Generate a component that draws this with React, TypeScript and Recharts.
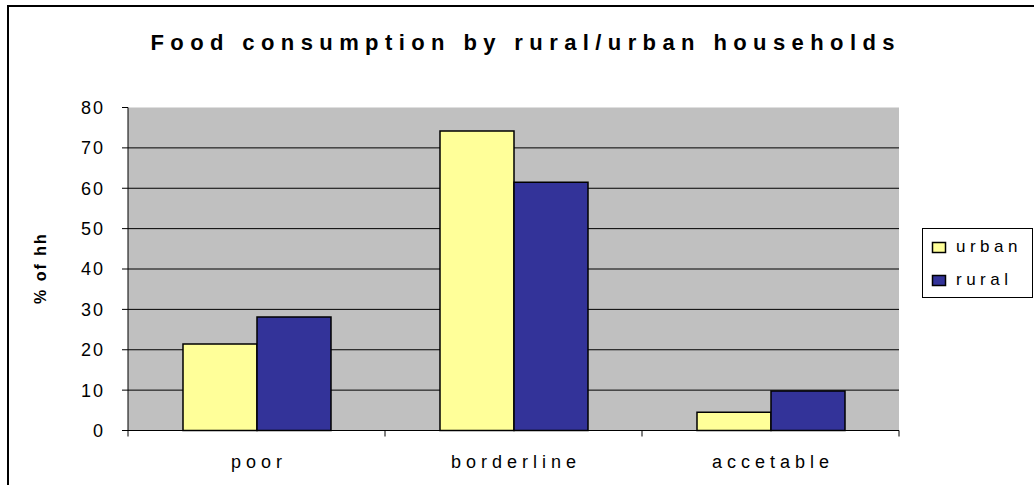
import { BarChart, Bar, XAxis, YAxis, CartesianGrid } from "recharts";

const categories = ["poor", "borderline", "accetable"];
const urbanValues = [21.4, 74.2, 4.5];
const ruralValues = [28.1, 61.5, 9.8];
const yTicks = [0, 10, 20, 30, 40, 50, 60, 70, 80];
const gridValues = [10, 20, 30, 40, 50, 60, 70];

const series = [
  { key: "urban", name: "urban", color: "#FFFF99" },
  { key: "rural", name: "rural", color: "#333399" },
];

const data = categories.map((c, i) => ({
  name: c,
  urban: urbanValues[i],
  rural: ruralValues[i],
}));

const font = '"Liberation Sans", Arial, sans-serif';

function CategoryTick(props: any) {
  const { x, y, payload, index } = props;
  const half = payload.offset ?? 128.5;
  return (
    <g>
      <line x1={x - half} x2={x - half} y1={y} y2={y + 6} stroke="#000" />
      {index === categories.length - 1 && (
        <line x1={x + half} x2={x + half} y1={y} y2={y + 6} stroke="#000" />
      )}
      <text
        x={x + 2.5}
        y={y + 37.5}
        textAnchor="middle"
        fontSize={18}
        letterSpacing={5}
        fontFamily={font}
        fill="#000"
      >
        {payload.value}
      </text>
    </g>
  );
}

export default function App() {
  return (
    <div
      style={{
        position: "absolute",
        left: 0,
        top: 0,
        width: 1034,
        height: 485,
        overflow: "hidden",
        background: "#fff",
        fontFamily: font,
      }}
    >
      <div
        style={{
          position: "absolute",
          left: 7,
          top: 5,
          width: 1100,
          height: 600,
          border: "2px solid #000",
        }}
      />
      <div style={{ position: "absolute", left: 0, top: 0 }}>
        <BarChart
          width={1034}
          height={485}
          data={data}
          margin={{ top: 107.5, right: 135, bottom: 24.5, left: 0 }}
          barCategoryGap="21.4%"
          barGap={0}
        >
          <CartesianGrid
            vertical={false}
            horizontalValues={gridValues}
            stroke="#000"
            fill="#C0C0C0"
            fillOpacity={1}
          />
          <XAxis
            dataKey="name"
            height={30}
            axisLine={{ stroke: "#000" }}
            tickLine={false}
            tickSize={0}
            tickMargin={0}
            tick={<CategoryTick />}
            interval={0}
          />
          <YAxis
            width={128}
            domain={[0, 80]}
            ticks={yTicks}
            interval={0}
            axisLine={{ stroke: "#000" }}
            tickLine={{ stroke: "#000" }}
            tickSize={6}
            tickMargin={17}
            tick={{
              fill: "#000",
              fontSize: 18,
              fontFamily: font,
              letterSpacing: 2,
            }}
          />
          {series.map((s) => (
            <Bar
              key={s.key}
              dataKey={s.key}
              name={s.name}
              fill={s.color}
              stroke="#000"
              strokeWidth={1.5}
              isAnimationActive={false}
            />
          ))}
        </BarChart>
      </div>
      <svg
        width={1034}
        height={485}
        style={{ position: "absolute", left: 0, top: 0, pointerEvents: "none" }}
      >
        <text
          x={150.5}
          y={49.5}
          fontSize={22}
          fontWeight="bold"
          letterSpacing={6.4}
          fontFamily={font}
          fill="#000"
        >
          Food consumption by rural/urban households
        </text>
        <text
          transform="translate(45.5,268) rotate(-90)"
          textAnchor="middle"
          fontSize={16}
          fontWeight="bold"
          letterSpacing={2}
          fontFamily={font}
          fill="#000"
        >
          % of hh
        </text>
      </svg>
      <div
        style={{
          position: "absolute",
          left: 922,
          top: 228,
          width: 111,
          height: 70,
          boxSizing: "border-box",
          border: "1px solid #000",
          background: "#fff",
        }}
      >
        <svg width={109} height={68}>
          {series.map((s, i) => (
            <g key={s.key}>
              <rect
                x={9.5}
                y={13.5 + i * 33}
                width={13}
                height={10}
                fill={s.color}
                stroke="#000"
                strokeWidth={1.5}
              />
              <text
                x={33}
                y={23 + i * 33}
                fontSize={17}
                letterSpacing={4.5}
                fontFamily={font}
                fill="#000"
              >
                {s.name}
              </text>
            </g>
          ))}
        </svg>
      </div>
    </div>
  );
}
